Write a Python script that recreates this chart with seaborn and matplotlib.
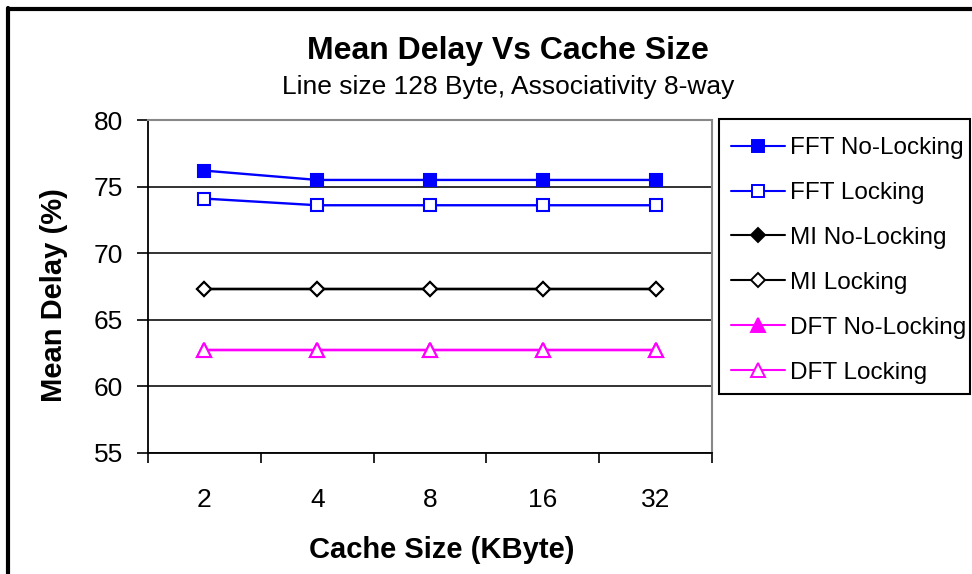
import matplotlib
matplotlib.use("Agg")
import matplotlib.pyplot as plt
import seaborn as sns
import pandas as pd
from matplotlib.lines import Line2D
from matplotlib.patches import Rectangle

cache_sizes = ["2", "4", "8", "16", "32"]
fft_no_locking = [76.2, 75.5, 75.5, 75.5, 75.5]
fft_locking = [74.1, 73.6, 73.6, 73.6, 73.6]
mi_no_locking = [67.3, 67.3, 67.3, 67.3, 67.3]
mi_locking = [67.3, 67.3, 67.3, 67.3, 67.3]
dft_no_locking = [62.7, 62.7, 62.7, 62.7, 62.7]
dft_locking = [62.7, 62.7, 62.7, 62.7, 62.7]
series_names = ["FFT No-Locking", "FFT Locking", "MI No-Locking",
                "MI Locking", "DFT No-Locking", "DFT Locking"]
y_ticks = [55, 60, 65, 70, 75, 80]

sns.set_theme(style="white")
plt.rcParams["font.family"] = ["Liberation Sans", "DejaVu Sans"]
plt.rcParams.update({"text.color": "black", "axes.labelcolor": "black",
                     "xtick.color": "black", "ytick.color": "black"})

W, H = 972, 574
fig = plt.figure(figsize=(W / 100, H / 100), dpi=100)
ax = fig.add_axes([148 / W, 1 - 453 / H, (712 - 148) / W, (453 - 120) / H])

pos = list(range(len(cache_sizes)))
all_values = [fft_no_locking, fft_locking, mi_no_locking, mi_locking,
              dft_no_locking, dft_locking]
styles = [
    dict(color="#0000ff", marker="s", mfc="#0000ff", ms=8.5),
    dict(color="#0000ff", marker="s", mfc="white", ms=8.5),
    dict(color="black", marker="D", mfc="black", ms=7.5),
    dict(color="black", marker="D", mfc="white", ms=7.5),
    dict(color="#ff00ff", marker="^", mfc="#ff00ff", ms=10),
    dict(color="#ff00ff", marker="^", mfc="white", ms=10),
]

df = pd.DataFrame({"pos": pos})
handles = []
for name, vals, st in zip(series_names, all_values, styles):
    df[name] = vals
    sns.lineplot(data=df, x="pos", y=name, ax=ax, color=st["color"], lw=1.7,
                 marker=st["marker"], markersize=st["ms"],
                 markerfacecolor=st["mfc"], markeredgecolor=st["color"],
                 markeredgewidth=1.5)
    handles.append(Line2D([], [], color=st["color"], lw=1.5, marker=st["marker"],
                          markersize=st["ms"] * 0.95, markerfacecolor=st["mfc"],
                          markeredgecolor=st["color"], markeredgewidth=1.4))

ax.set_xlim(-0.5, len(cache_sizes) - 0.5)
ax.set_ylim(55, 80)
ax.set_yticks(y_ticks)
ax.set_xticks([p - 0.5 for p in pos] + [len(cache_sizes) - 0.5])
ax.set_xticklabels([])
ax.set_xticks(pos, minor=True)
ax.set_xticklabels(cache_sizes, minor=True)
ax.tick_params(axis="x", which="minor", length=0, labelsize=19, pad=25)
ax.tick_params(axis="x", which="major", direction="out", length=7, width=1.2,
               color="black", bottom=True)
ax.tick_params(axis="y", direction="out", length=8, width=1.2, color="black",
               labelsize=19, pad=10, left=True)
ax.yaxis.grid(True, color="#222222", lw=1.3)
ax.xaxis.grid(False)
ax.set_axisbelow(True)

for side in ["left", "bottom"]:
    ax.spines[side].set_color("black")
    ax.spines[side].set_linewidth(1.3)
for side in ["top", "right"]:
    ax.spines[side].set_color("#888888")
    ax.spines[side].set_linewidth(1.5)

ax.set_xlabel("Cache Size (KByte)", fontsize=21, fontweight="bold")
ax.set_ylabel("Mean Delay (%)", fontsize=21, fontweight="bold")
ax.xaxis.set_label_coords(0.52, -0.25)
ax.yaxis.set_label_coords(-0.142, 0.474)

cx = 508 / W
fig.text(cx, 1 - 51 / H, "Mean Delay Vs Cache Size",
         ha="center", va="center", fontsize=23, fontweight="bold")
fig.text(cx, 1 - 87 / H, "Line size 128 Byte, Associativity 8-way",
         ha="center", va="center", fontsize=19)

# legend entries with a separately drawn box
leg = fig.legend(handles, series_names, loc="upper left",
                 bbox_to_anchor=(713 / W, 1 - 119 / H),
                 frameon=False, fontsize=17.5,
                 handlelength=2.2, handletextpad=0.2, labelspacing=0.94,
                 borderpad=0.75, borderaxespad=0)
fig.add_artist(Rectangle((719 / W, 1 - 394 / H), (970 - 719) / W, (394 - 119) / H,
                         transform=fig.transFigure, fill=False,
                         edgecolor="black", lw=1.5))

# outer chart frame
fig.add_artist(Line2D([8 / W, 8 / W], [0, 1 - 8 / H], color="black", lw=3,
                      transform=fig.transFigure))
fig.add_artist(Line2D([8 / W, 1], [1 - 9 / H, 1 - 9 / H], color="black", lw=3,
                      transform=fig.transFigure))

fig.savefig("out.png", dpi=100)
